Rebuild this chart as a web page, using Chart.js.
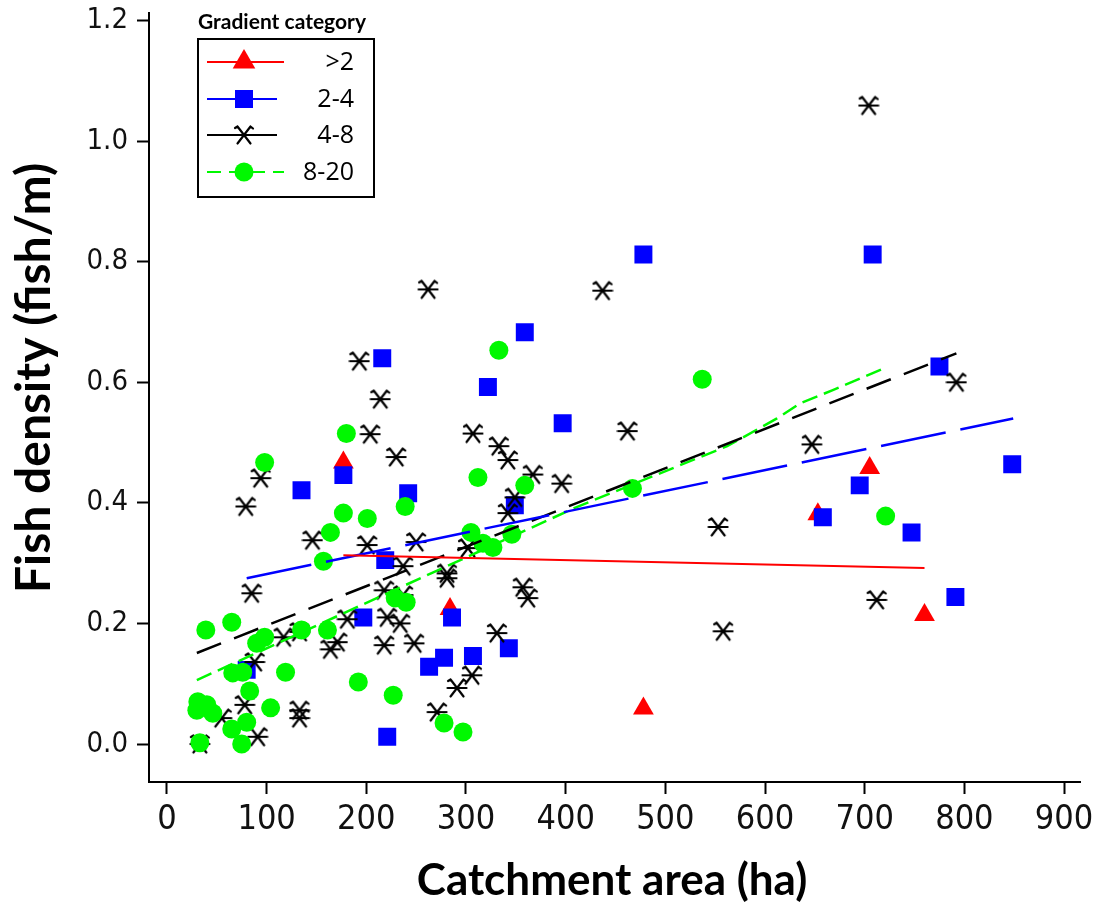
<!DOCTYPE html>
<html>
<head>
<meta charset="utf-8">
<title>Fish density vs catchment area</title>
<script src="https://cdn.jsdelivr.net/npm/chart.js@4.4.0/dist/chart.umd.min.js"></script>
<style>
  html, body { margin: 0; padding: 0; background: #fff; }
  #wrap { width: 1096px; height: 903px; }
</style>
</head>
<body>
<div id="wrap"><canvas id="chart" width="1096" height="903"></canvas></div>
<script>
// Gradient category >2 (red triangles)
const redX = [177, 284, 478, 705, 653, 760];
const redY = [0.467, 0.224, 0.059, 0.458, 0.381, 0.214];

// Gradient category 2-4 (blue squares)
const blueX = [216, 177, 135, 219, 197, 80, 221, 359, 322, 397, 242, 349, 286, 263, 278,
               307, 343, 478, 708, 775, 848, 695, 658, 747, 791];
const blueY = [0.640, 0.446, 0.421, 0.305, 0.210, 0.123, 0.012, 0.683, 0.592, 0.532, 0.416, 0.396, 0.210, 0.128, 0.143,
               0.146, 0.159, 0.812, 0.812, 0.626, 0.464, 0.429, 0.376, 0.351, 0.244];

// Gradient category 4-8 (black asterisks)
const blackX = [193, 214, 204, 230, 94, 79, 146, 201, 85, 218, 181, 221, 234, 117, 133, 171, 164, 218, 88,
                78, 133, 133, 55, 91, 33, 437, 262, 307, 333, 342, 462, 367, 396, 349, 342, 250, 302,
                237, 281, 281, 237, 357, 362, 331, 248, 306, 291, 271, 647, 792, 553, 712, 558, 704];
const blackY = [0.635, 0.572, 0.514, 0.476, 0.441, 0.394, 0.338, 0.330, 0.250, 0.255, 0.207, 0.210, 0.200, 0.177, 0.186, 0.169, 0.157, 0.164, 0.136,
                0.065, 0.056, 0.043, 0.043, 0.012, 0.000, 0.752, 0.754, 0.515, 0.494, 0.471, 0.519, 0.447, 0.432, 0.409, 0.383, 0.335, 0.325,
                0.295, 0.283, 0.275, 0.247, 0.260, 0.242, 0.184, 0.167, 0.114, 0.093, 0.053, 0.497, 0.600, 0.360, 0.239, 0.187, 1.059];

// Gradient category 8-20 (green circles)
const greenX = [180, 98, 177, 201, 164, 239, 157, 39, 65, 90, 98, 135, 161, 66, 76, 119, 83, 192, 227, 31, 40,
                30, 46, 104, 80, 65, 75, 33, 333, 312, 359, 305, 346, 317, 327, 229, 240, 278, 297, 537, 467, 721];
const greenY = [0.515, 0.467, 0.383, 0.374, 0.351, 0.394, 0.303, 0.189, 0.202, 0.167, 0.177, 0.189, 0.189, 0.118, 0.119, 0.119, 0.088, 0.103, 0.081, 0.070, 0.065,
                0.056, 0.051, 0.060, 0.036, 0.025, 0.000, 0.002, 0.653, 0.442, 0.429, 0.351, 0.348, 0.333, 0.326, 0.242, 0.235, 0.035, 0.020, 0.605, 0.424, 0.378];

// fitted lines per category
const redFitX = [177, 760];
const redFitY = [0.313, 0.292];
const blueFitX = [80, 849];
const blueFitY = [0.275, 0.540];
const blackFitX = [30, 792];
const blackFitY = [0.151, 0.648];
const greenFitX = [30, 411, 562, 612, 635, 668, 722];
const greenFitY = [0.106, 0.393, 0.494, 0.540, 0.565, 0.587, 0.625];

// axis ticks
const xTicks = [0, 100, 200, 300, 400, 500, 600, 700, 800, 900];
const yTicks = [0, 0.2, 0.4, 0.6, 0.8, 1.0, 1.2];

const categories = ['>2', '2-4', '4-8', '8-20'];
const GREEN = '#00f800';

function pts(xs, ys) {
    return xs.map((x, i) => ({ x: x, y: ys[i] }));
}

// asterisk marker used for the 4-8 category
function makeStar(size) {
    const c = document.createElement('canvas');
    c.width = size;
    c.height = size;
    const g = c.getContext('2d');
    const m = size / 2;
    g.strokeStyle = '#000';
    g.lineWidth = 2.2;
    g.lineCap = 'round';
    g.beginPath();
    g.moveTo(1.5, m); g.lineTo(size - 1.5, m);
    g.moveTo(m - 6.5, m - 8.5); g.lineTo(m + 6.5, m + 8.5);
    g.moveTo(m - 6.5, m + 8.5); g.lineTo(m + 6.5, m - 8.5);
    // little hooks on the upper arms
    g.moveTo(m + 6.5, m - 8.5); g.lineTo(m + 9, m - 6.5);
    g.moveTo(m - 6.5, m - 8.5); g.lineTo(m - 9, m - 7);
    g.stroke();
    return c;
}
const star = makeStar(22);

function drawMarker(ctx, kind, x, y) {
    ctx.beginPath();
    if (kind === 'tri') {
        ctx.fillStyle = '#ff0000';
        ctx.moveTo(x, y - 13);
        ctx.lineTo(x + 11.3, y + 6.5);
        ctx.lineTo(x - 11.3, y + 6.5);
        ctx.closePath();
        ctx.fill();
    } else if (kind === 'sq') {
        ctx.fillStyle = '#0000ff';
        ctx.fillRect(x - 9, y - 9, 18, 18);
    } else if (kind === 'circ') {
        ctx.fillStyle = GREEN;
        ctx.arc(x, y, 9.5, 0, Math.PI * 2);
        ctx.fill();
    } else {
        ctx.drawImage(star, x - star.width / 2, y - star.height / 2);
    }
}

// axis titles and the boxed legend
const decorations = {
    id: 'decorations',
    afterDraw(chart) {
        const ctx = chart.ctx;
        ctx.save();
        ctx.fillStyle = '#000';

        ctx.font = 'bold 44px Lato';
        ctx.textAlign = 'center';
        ctx.textBaseline = 'alphabetic';
        ctx.fillText('Catchment area (ha)', 612, 895);

        ctx.save();
        ctx.translate(50, 378);
        ctx.rotate(-Math.PI / 2);
        ctx.font = 'bold 48px Lato';
        ctx.fillText('Fish density (fish/m)', 0, 0);
        ctx.restore();

        // legend
        ctx.font = 'bold 21px Lato';
        ctx.textAlign = 'left';
        ctx.fillText('Gradient category', 198, 29);
        ctx.lineWidth = 2;
        ctx.strokeStyle = '#000';
        ctx.strokeRect(198, 39, 176, 158);

        const rows = [
            { y: 62, color: '#ff0000', end: 284, dash: [], kind: 'tri' },
            { y: 99, color: '#0000ff', end: 277, dash: [], kind: 'sq' },
            { y: 135, color: '#000000', end: 277, dash: [], kind: 'star' },
            { y: 172, color: GREEN, end: 284, dash: [14, 8], kind: 'circ' }
        ];
        ctx.font = '25px "Open Sans"';
        ctx.textAlign = 'right';
        ctx.textBaseline = 'middle';
        rows.forEach((r, i) => {
            ctx.beginPath();
            ctx.setLineDash(r.dash);
            ctx.strokeStyle = r.color;
            ctx.lineWidth = 2;
            ctx.moveTo(207, r.y);
            ctx.lineTo(r.end, r.y);
            ctx.stroke();
            ctx.setLineDash([]);
            drawMarker(ctx, r.kind, 244, r.y);
            ctx.fillStyle = '#000';
            ctx.fillText(categories[i], 354, r.y + 1);
        });
        ctx.restore();
    }
};

const ctx = document.getElementById('chart');
new Chart(ctx, {
    type: 'scatter',
    data: {
        datasets: [
            // fitted lines
            { data: pts(redFitX, redFitY), showLine: true, borderColor: '#ff0000', borderWidth: 2,
              pointRadius: 0, order: 0 },
            { data: pts(blueFitX, blueFitY), showLine: true, borderColor: '#0000ff', borderWidth: 2.5,
              borderDash: [66, 15], pointRadius: 0, order: 0 },
            { data: pts(blackFitX, blackFitY), showLine: true, borderColor: '#000000', borderWidth: 2.5,
              borderDash: [26, 14], pointRadius: 0, order: 0 },
            { data: pts(greenFitX, greenFitY), showLine: true, borderColor: GREEN, borderWidth: 2.5,
              borderDash: [16, 7], pointRadius: 0, order: 0 },
            // points
            { label: categories[3], data: pts(greenX, greenY), pointStyle: 'circle', pointRadius: 9.5,
              backgroundColor: GREEN, borderColor: GREEN, borderWidth: 0, order: 1 },
            { label: categories[2], data: pts(blackX, blackY), pointStyle: star, pointRadius: 10,
              backgroundColor: '#000', borderColor: '#000', order: 2 },
            { label: categories[1], data: pts(blueX, blueY), pointStyle: 'rect', pointRadius: 12.7,
              backgroundColor: '#0000ff', borderColor: '#0000ff', borderWidth: 0, order: 3 },
            { label: categories[0], data: pts(redX, redY), pointStyle: 'triangle', pointRadius: 12,
              backgroundColor: '#ff0000', borderColor: '#ff0000', borderWidth: 0, order: 4 }
        ]
    },
    options: {
        responsive: false,
        animation: false,
        devicePixelRatio: 1,
        layout: { padding: { left: 0, right: 16, top: 12, bottom: 0 } },
        plugins: {
            legend: { display: false },
            tooltip: { enabled: false }
        },
        scales: {
            x: {
                type: 'linear',
                min: -18,
                max: 916,
                afterBuildTicks: s => { s.ticks = xTicks.map(v => ({ value: v })); },
                afterFit: s => { s.height = 121; s.paddingLeft = 0; s.paddingRight = 0; },
                border: { display: true, color: '#000', width: 2 },
                grid: { drawOnChartArea: false, drawTicks: true, tickLength: 12, tickColor: '#000', tickWidth: 2 },
                ticks: {
                    font: { family: '"Liberation Sans Narrow", "DejaVu Sans Condensed", "DejaVu Sans"', size: 34 },
                    color: '#111',
                    padding: 6,
                    maxRotation: 0,
                    autoSkip: false,
                    callback: v => String(v)
                }
            },
            y: {
                type: 'linear',
                min: -0.063,
                max: 1.213,
                afterBuildTicks: s => { s.ticks = yTicks.map(v => ({ value: v })); },
                afterFit: s => { s.width = 149; s.paddingTop = 0; s.paddingBottom = 0; },
                border: { display: true, color: '#000', width: 2 },
                grid: { drawOnChartArea: false, drawTicks: true, tickLength: 12, tickColor: '#000', tickWidth: 2 },
                ticks: {
                    font: { family: '"DejaVu Sans Condensed", "DejaVu Sans"', size: 29 },
                    color: '#111',
                    padding: 9,
                    autoSkip: false,
                    callback: v => v.toFixed(1)
                }
            }
        }
    },
    plugins: [decorations]
});
</script>
</body>
</html>
